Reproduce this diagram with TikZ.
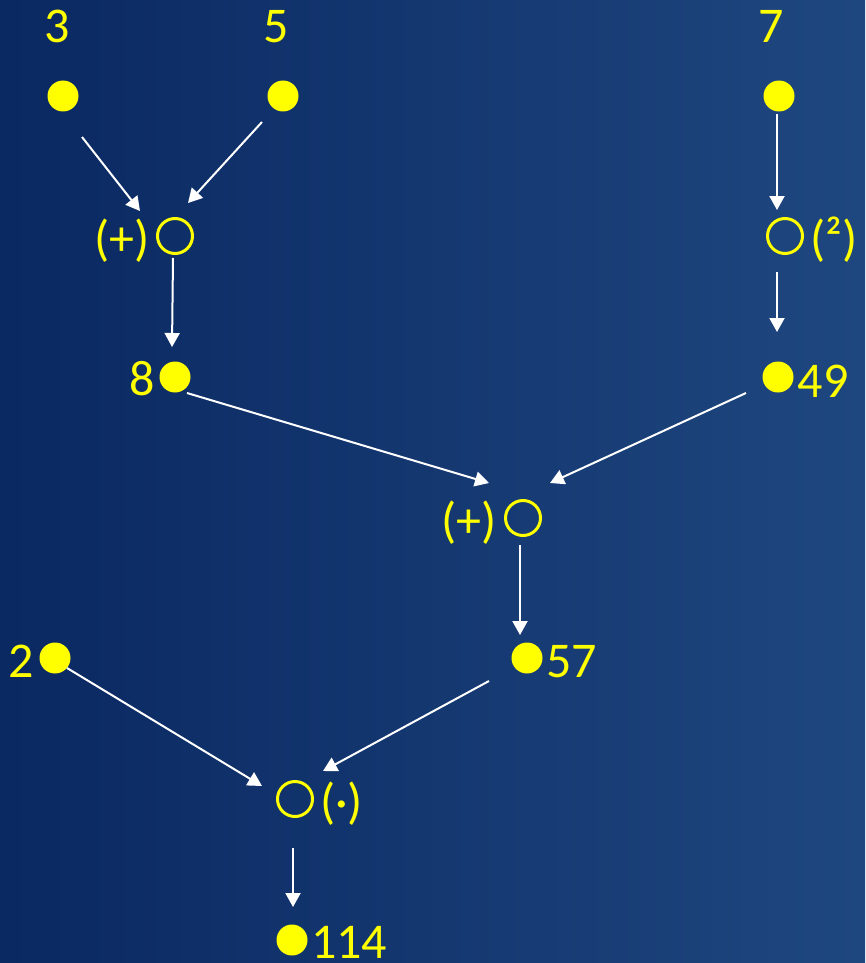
\documentclass[tikz,border=0pt]{standalone}
\usepackage{fontspec}
\setmainfont{Carlito}
\usetikzlibrary{arrows.meta,calc}
\definecolor{bgL}{RGB}{10,40,98}
\definecolor{bgR}{RGB}{31,71,127}
\definecolor{yel}{RGB}{255,255,0}
\begin{document}
\begin{tikzpicture}[x=1pt,y=-1pt,
  dot/.style={circle,fill=yel,inner sep=0pt,minimum size=31pt},
  opc/.style={circle,draw=yel,line width=3pt,inner sep=0pt,minimum size=35pt},
  lbl/.style={text=yel,inner sep=0pt,font=\fontsize{50}{60}\selectfont},
  arr/.style={draw=white,line width=2pt,-{Triangle[length=14pt,width=15pt]}}]
\shade[left color=bgL,right color=bgR] (0,0) rectangle (865,963);
\useasboundingbox (0,0) rectangle (865,963);

% value dots
\node[dot] (d3) at (63,96) {};
\node[dot] (d5) at (283,96) {};
\node[dot] (d7) at (779,96) {};
\node[dot] (d8) at (175,377) {};
\node[dot] (d49) at (778,377) {};
\node[dot] (d2) at (55,658) {};
\node[dot] (d57) at (527,658) {};
\node[dot] (d114) at (292,940) {};
% operation circles
\node[opc] (o1) at (175,236) {};
\node[opc] (o2) at (785,236) {};
\node[opc] (o3) at (523,518) {};
\node[opc] (o4) at (295,799) {};

% labels
\node[lbl,anchor=base] (t3) at (57,43) {3};
\node[lbl,anchor=base] (t5) at (276.5,43) {5};
\node[lbl,anchor=base] (t7) at (771,43) {7};
\node[lbl,anchor=base east] (l1) at (150,255) {(+)};
\node[lbl,anchor=base west] (l2) at (810,255) {(²)};
\node[lbl,anchor=base east] (t8) at (155,395) {8};
\node[lbl,anchor=base west] (t49) at (797.5,397) {49};
\node[lbl,anchor=base east] (l3) at (497,537) {(+)};
\node[lbl,anchor=base west] (t57) at (546,677) {57};
\node[lbl,anchor=base east] (t2) at (34.5,677) {2};
\node[lbl,anchor=base west] (l4) at (320,818) {(·)};
\node[lbl,anchor=base west] (t114) at (311,958) {114};

% arrows
\draw[arr] ($(d3)+(19,41)$) -- ($(o1)+(-35,-25)$);
\draw[arr] ($(d5)+(-21,26)$) -- ($(o1)+(13,-33)$);
\draw[arr] ($(d7)+(-2,18)$) -- ($(o2)+(-8,-26)$);
\draw[arr] ($(o1)+(-2,22)$) -- ($(d8)+(-3,-30)$);
\draw[arr] ($(o2)+(-8,36)$) -- ($(d49)+(-1,-45)$);
\draw[arr] ($(d8)+(12,16)$) -- ($(o3)+(-34,-35)$);
\draw[arr] ($(d49)+(-32,16)$) -- ($(o3)+(27,-35)$);
\draw[arr] ($(o3)+(-3,27)$) -- ($(d57)+(-7,-23)$);
\draw[arr] ($(d2)+(12,10)$) -- ($(o4)+(-33,-13)$);
\draw[arr] ($(d57)+(-38,23)$) -- ($(o4)+(28,-28)$);
\draw[arr] ($(o4)+(-2,49)$) -- ($(d114)+(1,-33)$);
\end{tikzpicture}
\end{document}
